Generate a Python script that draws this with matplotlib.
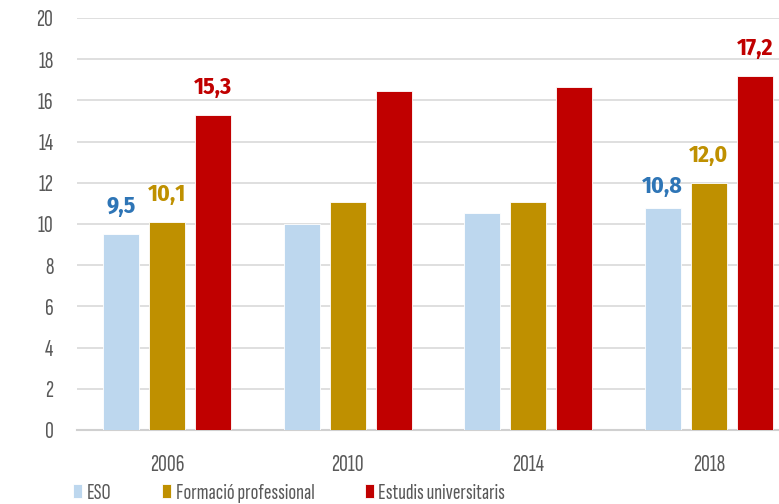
import numpy as np
import matplotlib
matplotlib.use('Agg')
import matplotlib.pyplot as plt

# narrow humanist face, close to the squeezed Calibri of the original
plt.rcParams['font.family'] = ['Sofia Sans Extra Condensed', 'DejaVu Sans']
bold_fam = ['Fira Sans Condensed', 'DejaVu Sans']

years = ['2006', '2010', '2014', '2018']
series = ['ESO', 'Formació professional', 'Estudis universitaris']
eso = [9.5, 10.0, 10.55, 10.8]
fp = [10.1, 11.05, 11.05, 12.0]
univ = [15.3, 16.45, 16.65, 17.2]
# which years carry a value label
labelled = ['2006', '2018']

bar_colors = ['#BDD7EE', '#BF9000', '#C00000']
label_colors = ['#2E75B6', '#BF9000', '#C00000']

fig = plt.figure(figsize=(7.79, 5.04), dpi=100)
ax = fig.add_axes([77 / 779, 1 - 430 / 504, 1 - 77 / 779, (430 - 18) / 504])

x = np.arange(len(years))
width = 0.2
step = 0.255
for i, (vals, name) in enumerate(zip([eso, fp, univ], series)):
    pos = x + (i - 1) * step
    ax.bar(pos, vals, width, color=bar_colors[i], edgecolor='white', linewidth=0.6,
           label=name, zorder=3)
    for p, v, yr in zip(pos, vals, years):
        if yr not in labelled:
            continue
        off = 15 if (i == 0 and yr == '2018') else 20
        ax.annotate(f'{v:.1f}'.replace('.', ','), (p, v), xytext=(0, off),
                    textcoords='offset points', ha='center', va='center',
                    fontsize=17, fontweight='bold', family=bold_fam,
                    color=label_colors[i])

ax.set_ylim(0, 20)
ax.set_yticks(range(0, 21, 2))
ax.set_xlim(-0.5, -0.5 + 702 / 180.5)
ax.set_xticks(x)
ax.set_xticklabels(years)
ax.grid(axis='y', color='#D9D9D9', linewidth=1.2, zorder=0)
for s in ['top', 'right', 'left']:
    ax.spines[s].set_visible(False)
ax.spines['bottom'].set_color('#D0D0D0')
ax.spines['bottom'].set_linewidth(1.5)
ax.tick_params(axis='both', length=0, labelsize=17.5, labelcolor='#595959')
ax.tick_params(axis='y', pad=17)
ax.tick_params(axis='x', pad=17)

fig.legend(loc='lower left', bbox_to_anchor=(73 / 779, 0.002), ncol=3, frameon=False,
           fontsize=16.5, handlelength=0.4, handleheight=0.62, handletextpad=0.2,
           columnspacing=2.2, labelcolor='#595959', borderpad=0, borderaxespad=0)

fig.savefig('out.png', dpi=100)
